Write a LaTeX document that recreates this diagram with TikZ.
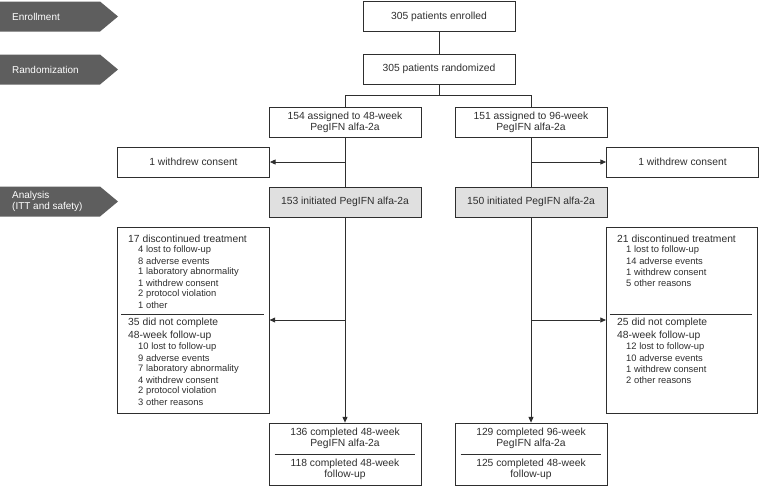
\documentclass[tikz,border=0pt]{standalone}
\usepackage{fontspec}
\setmainfont{Liberation Sans}
\usetikzlibrary{arrows.meta}

\definecolor{stagegray}{HTML}{5E5E5E}
\definecolor{initgray}{HTML}{E0E0E0}
\definecolor{inkgray}{HTML}{2E2E2E}

\newcommand{\boxfont}{\fontsize{8.8}{9.4}\selectfont}
\newcommand{\itemfont}{\fontsize{8}{9.4}\selectfont}

\begin{document}
\begin{tikzpicture}[
    x=0.3mm, y=-0.3mm,
    flowbox/.style={rectangle, draw=inkgray, line width=0.7pt, text=inkgray, minimum width=45.6mm, minimum height=9mm, align=center, inner sep=0pt, font=\boxfont},
    dropbox/.style={rectangle, draw=inkgray, line width=0.7pt, minimum width=45.4mm, minimum height=55.8mm, inner sep=0pt},
    donebox/.style={rectangle, draw=inkgray, line width=0.7pt, minimum width=45.6mm, minimum height=18.6mm, inner sep=0pt},
    headtext/.style={anchor=west, inner sep=0pt, text=inkgray, font=\boxfont},
    itemtext/.style={anchor=west, inner sep=0pt, text=inkgray, font=\itemfont},
    midtext/.style={inner sep=0pt, align=center, text=inkgray, font=\boxfont},
    stagetext/.style={anchor=west, inner sep=0pt, align=left, text=white, font=\fontsize{8.5}{9.4}\selectfont},
    link/.style={draw=inkgray, line width=0.7pt},
    arrowlink/.style={draw=inkgray, line width=0.7pt, -{Triangle[length=1.7mm, width=1.5mm]}},
]

    \useasboundingbox (0,0) rectangle (759,488);

    % stage labels on the left
    \foreach \name/\yc/\txt in {
    enrol/16.5/Enrollment,
    rand/69.5/Randomization,
    ana/201.5/{Analysis\\(ITT and safety)}}
    {
        \fill [stagegray] (0,\yc-15) -- (100,\yc-15) -- (118,\yc) -- (100,\yc+15) -- (0,\yc+15) -- cycle;
        \node [stagetext] (stage_\name) at (12,\yc) {\txt};
    }

    % top boxes
    \node [flowbox] (enrolled) at (439,16.5) {305 patients enrolled};
    \node [flowbox] (randomized) at (439,69) {305 patients randomized};

    % the two arms
    \node [flowbox] (lAssign) at (345,122) {154 assigned to 48-week\\PegIFN alfa-2a};
    \node [flowbox] (rAssign) at (531,122) {151 assigned to 96-week\\PegIFN alfa-2a};

    % withdrawals before start
    \node [flowbox] (lWithdraw) at (193.5,162) {1 withdrew consent};
    \node [flowbox] (rWithdraw) at (682.5,162) {1 withdrew consent};

    % initiated (grey)
    \node [flowbox, fill=initgray] (lInit) at (345,202) {153 initiated PegIFN alfa-2a};
    \node [flowbox, fill=initgray] (rInit) at (531,202) {150 initiated PegIFN alfa-2a};

    % drop-out boxes
    \node [dropbox] (lDrop) at (193.5,320) {};
    \node [dropbox] (rDrop) at (682,320) {};

    \draw [link, line width=0.6pt] ([shift={(1.2mm,1.8mm)}]lDrop.west) -- ([shift={(-1.8mm,1.8mm)}]lDrop.east);
    \draw [link, line width=0.6pt] ([shift={(1.2mm,1.8mm)}]rDrop.west) -- ([shift={(-1.8mm,1.8mm)}]rDrop.east);

    % left drop-out text
    \node [headtext] (lDisc) at (128,239) {17 discontinued treatment};
    \foreach \i/\txt in {
    1/4 lost to follow-up,
    2/8 adverse events,
    3/1 laboratory abnormality,
    4/1 withdrew consent,
    5/2 protocol violation,
    6/1 other}
    {
        \node [itemtext] (lDisc_\i) at (138,239+11*\i) {\txt};
    }
    \node [headtext] (lFollow) at (128,323) {35 did not complete};
    \node [headtext] (lFollowB) at (128,335.5) {48-week follow-up};
    \foreach \i/\txt in {
    1/10 lost to follow-up,
    2/9 adverse events,
    3/7 laboratory abnormality,
    4/4 withdrew consent,
    5/2 protocol violation,
    6/3 other reasons}
    {
        \node [itemtext] (lFollow_\i) at (138,336+11*\i) {\txt};
    }

    % right drop-out text
    \node [headtext] (rDisc) at (617,239) {21 discontinued treatment};
    \foreach \i/\txt in {
    1/1 lost to follow-up,
    2/14 adverse events,
    3/1 withdrew consent,
    4/5 other reasons}
    {
        \node [itemtext] (rDisc_\i) at (626,239+11*\i) {\txt};
    }
    \node [headtext] (rFollow) at (617,323) {25 did not complete};
    \node [headtext] (rFollowB) at (617,335.5) {48-week follow-up};
    \foreach \i/\txt in {
    1/12 lost to follow-up,
    2/10 adverse events,
    3/1 withdrew consent,
    4/2 other reasons}
    {
        \node [itemtext] (rFollow_\i) at (626,336+11*\i) {\txt};
    }

    % completed boxes
    \node [donebox] (lDone) at (345,454) {};
    \node [donebox] (rDone) at (531,454) {};
    \node [midtext] (lDoneA) at (345,438.5) {136 completed 48-week\\PegIFN alfa-2a};
    \node [midtext] (lDoneB) at (345,469.5) {118 completed 48-week\\follow-up};
    \node [midtext] (rDoneA) at (531,438.5) {129 completed 96-week\\PegIFN alfa-2a};
    \node [midtext] (rDoneB) at (531,469.5) {125 completed 48-week\\follow-up};
    \draw [link, line width=0.6pt] ([xshift=1.8mm]lDone.west) -- ([xshift=-1.8mm]lDone.east);
    \draw [link, line width=0.6pt] ([xshift=1.8mm]rDone.west) -- ([xshift=-1.8mm]rDone.east);

    % connectors
    \coordinate (split) at (439,95);
    \coordinate (lFork) at (345,162);
    \coordinate (rFork) at (531,162);
    \coordinate (lFork2) at (345,320);
    \coordinate (rFork2) at (531,320);

    \draw [link] (enrolled) -- (randomized);
    \draw [link] (randomized) -- (split) -| (lAssign);
    \draw [link] (split) -| (rAssign);
    \draw [link] (lAssign) -- (lInit);
    \draw [link] (rAssign) -- (rInit);
    \draw [arrowlink] (lFork) -- (lWithdraw);
    \draw [arrowlink] (rFork) -- (rWithdraw);
    \draw [arrowlink] (lInit) -- (lDone);
    \draw [arrowlink] (rInit) -- (rDone);
    \draw [arrowlink] (lFork2) -- (lDrop);
    \draw [arrowlink] (rFork2) -- (rDrop);

\end{tikzpicture}
\end{document}
